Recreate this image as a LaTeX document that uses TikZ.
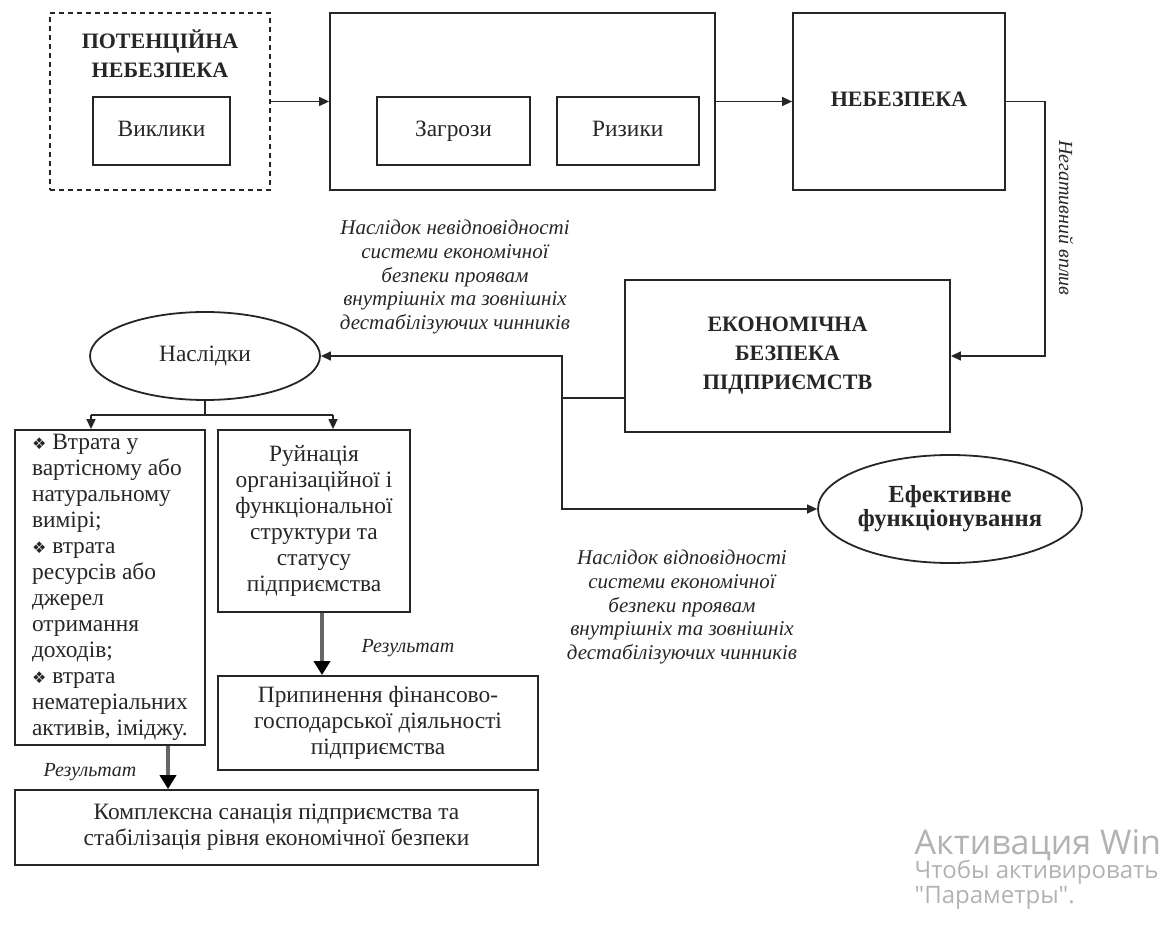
\documentclass[tikz,border=0pt]{standalone}
\usepackage{fontspec}
\setmainfont{Liberation Serif}
\newfontfamily\dingfont{DejaVu Sans}
\newfontfamily\winfont{Open Sans}
\usetikzlibrary{positioning,shapes.geometric,arrows.meta}
\newcommand\tekst{\fontsize{11.7}{13}\selectfont}
\newcommand\zagol{\fontsize{11}{14.5}\selectfont\bfseries}
\newcommand\kursyv{\fontsize{10.5}{11.8}\selectfont\itshape}
\newcommand\romb{{\dingfont\fontsize{8}{8}\selectfont ❖}}
\tikzstyle{blok}=[rectangle,draw=black!85,line width=0.9pt,inner sep=0pt,align=center,font=\tekst]
\tikzstyle{odyn}=[text height=1.6ex,text depth=0.45ex]
\tikzstyle{punktyr}=[blok,dash pattern=on 2.5pt off 2pt]
\tikzstyle{oval}=[ellipse,draw=black!85,line width=0.9pt,inner sep=0pt,align=center,font=\tekst]
\tikzstyle{pidpys}=[align=center,font=\kursyv,inner sep=0pt]
\tikzstyle{strilka}=[line width=2.2pt,draw=black!60,-{Triangle[length=7pt,width=8pt,color=black]}]
\tikzstyle{vodyanyi}=[anchor=west,inner sep=0pt,text=black!30]

\begin{document}
\begin{tikzpicture}[x=0.5pt,y=-0.5pt,line width=0.7pt,color=black!85,>={Triangle[length=5pt,width=4.5pt]}]
\useasboundingbox (0,0) rectangle (1165,929);

\node[punktyr,minimum width=110pt,minimum height=88.5pt] (P00) at (160,101.5) {};
\node[font=\zagol,align=center,inner sep=0pt] (T01) at (160,54) {ПОТЕНЦІЙНА\\НЕБЕЗПЕКА};
\node[blok,odyn,minimum width=68.5pt,minimum height=34pt] (V02) at (161.5,131) {Виклики};
\node[blok,minimum width=192.5pt,minimum height=88.5pt] (B10) at (522.5,101.5) {};
\node[blok,odyn,minimum width=76.5pt,minimum height=34pt] (Z11) at (453.5,131) {Загрози};
\node[blok,odyn,minimum width=71pt,minimum height=34pt] (R12) [right=12.5pt of Z11] {Ризики};
\node[blok,odyn,font=\zagol,minimum width=106pt,minimum height=88.5pt] (N20) at (899,101.5) {НЕБЕЗПЕКА};
\node[blok,font=\zagol,minimum width=162.5pt,minimum height=76pt] (E30) at (787.5,356) {ЕКОНОМІЧНА\\БЕЗПЕКА\\ПІДПРИЄМСТВ};
\node[oval,odyn,minimum width=115pt,minimum height=44pt] (H40) at (205,356) {Наслідки};
\node[oval,font=\fontsize{12.3}{12}\selectfont\bfseries,minimum width=132pt,minimum height=54pt] (F50) at (950,509) {Ефективне\\функціонування};
\node[pidpys] (L41) at (455,277) {Наслідок невідповідності\\системи економічної\\безпеки проявам\\внутрішніх та зовнішніх\\дестабілізуючих чинників};
\node[pidpys] (L51) at (682,607) {Наслідок відповідності\\системи економічної\\безпеки проявам\\внутрішніх та зовнішніх\\дестабілізуючих чинників};
\node[pidpys,rotate=-90,font=\fontsize{10}{12}\selectfont\itshape] (L22) at (1066,218) {Негативний вплив};
\node[blok,align=left,minimum width=95pt,minimum height=157.5pt] (K60) at (110,587.5) {\romb\ Втрата у\\вартісному або\\натуральному\\вимірі;\\\romb\ втрата\\ресурсів або\\джерел\\отримання\\доходів;\\\romb\ втрата\\нематеріальних\\активів, іміджу.};
\node[blok,minimum width=96pt,minimum height=91pt] (R61) at (314,521) {Руйнація\\організаційної і\\функціональної\\структури та\\статусу\\підприємства};
\node[blok,minimum width=160pt,minimum height=47pt] (S70) at (378,723) {Припинення фінансово-\\господарської діяльності\\підприємства};
\node[blok,minimum width=261.5pt,minimum height=37.5pt] (K80) at (276.5,827.5) {Комплексна санація підприємства та\\стабілізація рівня економічної безпеки};
\node[pidpys,font=\fontsize{10}{12}\selectfont\itshape] (R63) at (408,648) {Результат};
\node[pidpys,font=\fontsize{10}{12}\selectfont\itshape] (R64) at (90,772) {Результат};

\coordinate (C21) at (1045,101.5);
\coordinate (J31) at (562,398);
\coordinate (D43) at (91,415);
\coordinate (D44) at (333,415);

\draw[->] (P00.east) -- (B10.west);
\draw[->] (B10.east) -- (N20.west);
\draw[->] (N20.east) -- (C21) |- (E30.east);
\draw (E30.west |- J31) -- (J31);
\draw[->] (J31) |- (H40.east);
\draw[->] (J31) |- (F50.west);
\draw (H40.south) -- (H40.south |- D43);
\draw (D43) -- (D44);
\draw[->] (D43) -- (D43 |- K60.north);
\draw[->] (D44) -- (D44 |- R61.north);
\draw[strilka] ([xshift=4pt]R61.south) -- ([xshift=4pt]R61.south |- S70.north);
\draw[strilka] ([xshift=29pt]K60.south) -- ([xshift=29pt]K60.south |- K80.north);

\node[vodyanyi,font=\winfont\fontsize{17}{17}\selectfont] (W90) at (914,845) {Активация Win};
\node[vodyanyi,font=\winfont\fontsize{12}{12}\selectfont] (W91) at (914,872) {Чтобы активировать};
\node[vodyanyi,font=\winfont\fontsize{12}{12}\selectfont] (W92) at (914,898) {"Параметры".};
\end{tikzpicture}
\end{document}
